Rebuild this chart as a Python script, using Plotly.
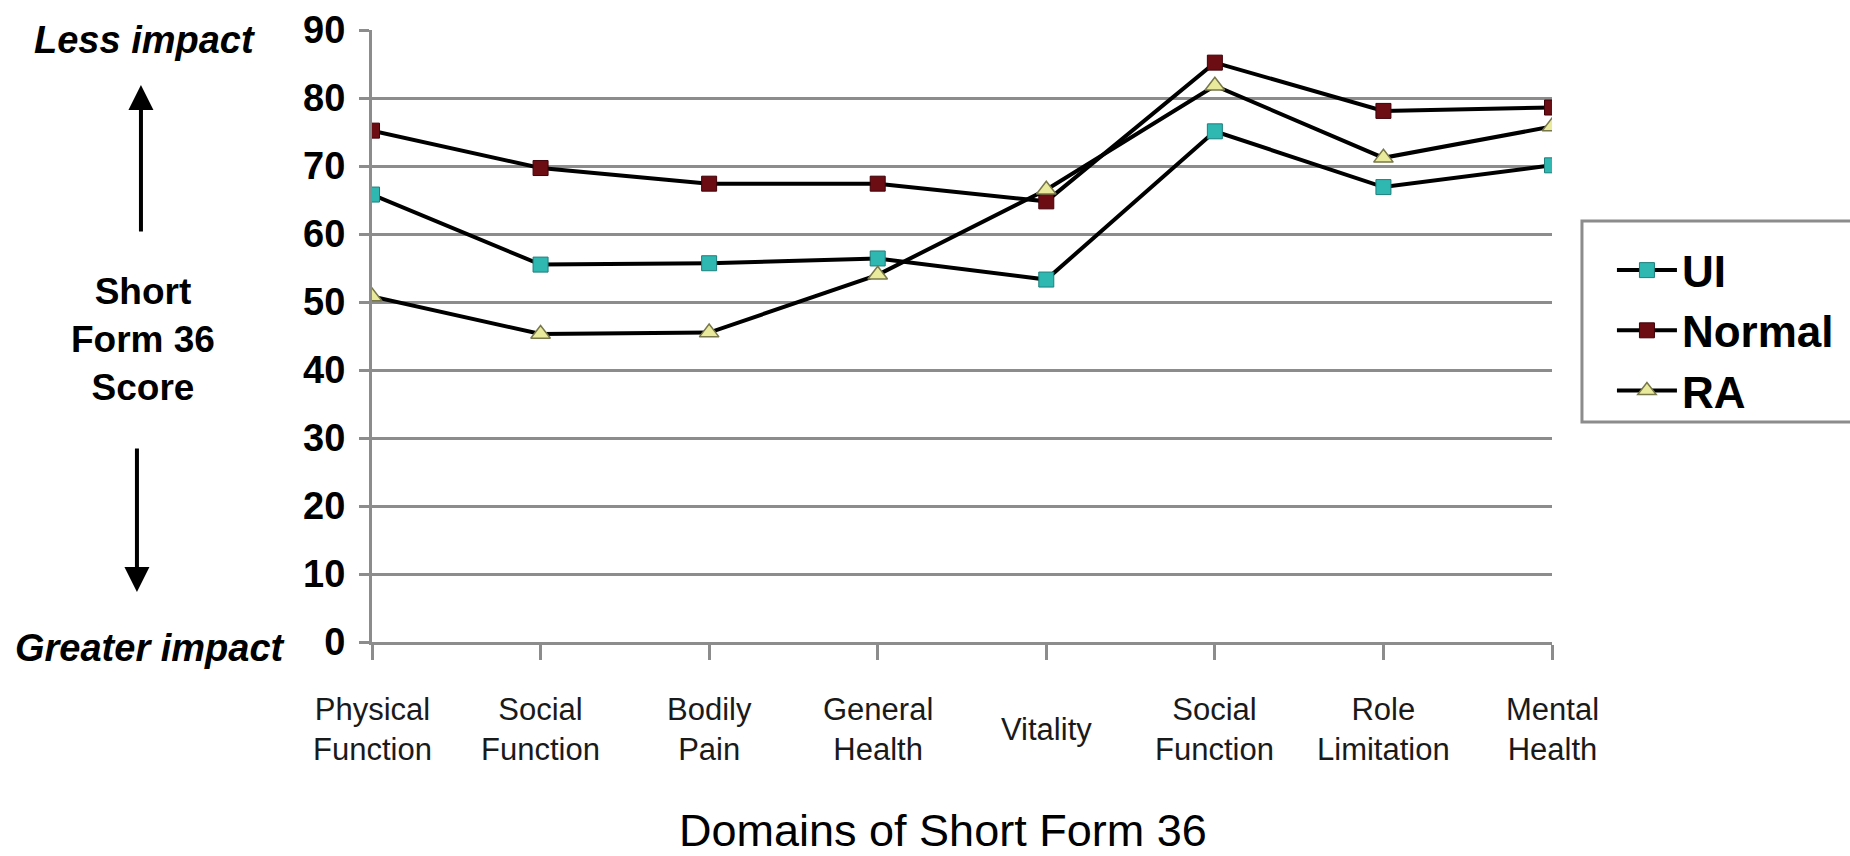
import plotly.graph_objects as go

# SF-36 domain scores by group
domains = ["Physical<br>Function", "Social<br>Function", "Bodily<br>Pain", "General<br>Health",
           "Vitality", "Social<br>Function", "Role<br>Limitation", "Mental<br>Health"]
ui_scores = [65.8, 55.5, 55.7, 56.4, 53.3, 75.1, 66.9, 70.1]
normal_scores = [75.2, 69.7, 67.4, 67.4, 64.8, 85.2, 78.1, 78.6]
ra_scores = [50.8, 45.3, 45.5, 54.0, 66.5, 81.8, 71.2, 75.8]
y_ticks = [0, 10, 20, 30, 40, 50, 60, 70, 80, 90]

FONT = "Liberation Sans, Arial, sans-serif"
GRID = "#8c8c8c"
xpos = list(range(len(domains)))

fig = go.Figure()
series = [
    ("UI", ui_scores, dict(symbol="square", size=15, color="#2fb7b2",
                           line=dict(color="#1d7f7c", width=1))),
    ("Normal", normal_scores, dict(symbol="square", size=15, color="#6c0d14",
                                   line=dict(color="#400008", width=1))),
    ("RA", ra_scores, dict(symbol="triangle-up", size=17, color="#eaea9c",
                           line=dict(color="#77774a", width=1.5))),
]
for name, vals, marker in series:
    fig.add_trace(go.Scatter(
        x=xpos, y=vals, name=name, legendgroup=name,
        mode="lines+markers",
        line=dict(color="black", width=4),
        marker=marker,
    ))

# category labels under the axis, centred vertically like wrapped axis text
for i, lab in enumerate(domains):
    fig.add_annotation(x=i, xref="x", y=-0.143, yref="paper", text=lab,
                       showarrow=False, xanchor="center", yanchor="middle",
                       font=dict(family=FONT, size=31, color="#1a1a1a"))

# axis title
fig.add_annotation(x=0.484, xref="paper", y=-0.3088, yref="paper",
                   text="Domains of Short Form 36", showarrow=False,
                   xanchor="center", yanchor="middle",
                   font=dict(family=FONT, size=45, color="black"))

# left-hand explanatory labels and arrows
fig.add_annotation(x=-0.1932, xref="paper", y=0.9837, yref="paper",
                   text="<b><i>Less impact</i></b>", showarrow=False,
                   xanchor="center", yanchor="middle",
                   font=dict(family=FONT, size=38, color="black"))
fig.add_annotation(x=-0.188, xref="paper", y=-0.0098, yref="paper",
                   text="<b><i>Greater impact</i></b>", showarrow=False,
                   xanchor="center", yanchor="middle",
                   font=dict(family=FONT, size=38, color="black"))
fig.add_annotation(x=-0.194, xref="paper", y=0.4935, yref="paper",
                   text="<b>Short<br>Form 36<br>Score</b>", showarrow=False,
                   xanchor="center", yanchor="middle",
                   font=dict(family=FONT, size=37, color="black"))
fig.add_annotation(x=-0.1958, xref="paper", y=0.910, yref="paper",
                   ax=0, ay=148, text="", showarrow=True,
                   arrowhead=2, arrowwidth=4, arrowsize=1.25, arrowcolor="black")
fig.add_annotation(x=-0.1992, xref="paper", y=0.0817, yref="paper",
                   ax=0, ay=-145, text="", showarrow=True,
                   arrowhead=2, arrowwidth=4, arrowsize=1.25, arrowcolor="black")

# legend frame
fig.add_shape(type="rect", xref="paper", yref="paper",
              x0=1.0254, x1=1.26, y0=0.3595, y1=0.688,
              line=dict(color=GRID, width=3), fillcolor="rgba(0,0,0,0)")

fig.update_layout(
    width=1850, height=856,
    margin=dict(l=372, r=298, t=30, b=214, autoexpand=False),
    paper_bgcolor="white", plot_bgcolor="white",
    font=dict(family=FONT, color="black"),
    showlegend=True,
    legend=dict(x=1.0508, xanchor="left", y=0.665, yanchor="top",
                bgcolor="rgba(0,0,0,0)", borderwidth=0,
                font=dict(family=FONT, size=44, color="black", weight="bold"),
                itemwidth=60, tracegroupgap=4, traceorder="normal"),
    xaxis=dict(range=[0, 7], tickvals=xpos, showticklabels=False,
               showgrid=False, zeroline=False,
               showline=True, linecolor=GRID, linewidth=3,
               ticks="outside", ticklen=15, tickwidth=3, tickcolor=GRID),
    yaxis=dict(range=[0, 90], tickvals=y_ticks, ticktext=[str(v) for v in y_ticks],
               showgrid=True, gridcolor=GRID, gridwidth=3, zeroline=False,
               showline=True, linecolor=GRID, linewidth=3,
               ticks="outside", ticklen=10, tickwidth=3, tickcolor=GRID,
               ticklabelstandoff=6,
               tickfont=dict(family=FONT, size=38, color="black", weight="bold")),
)

fig.write_html("out.html")
